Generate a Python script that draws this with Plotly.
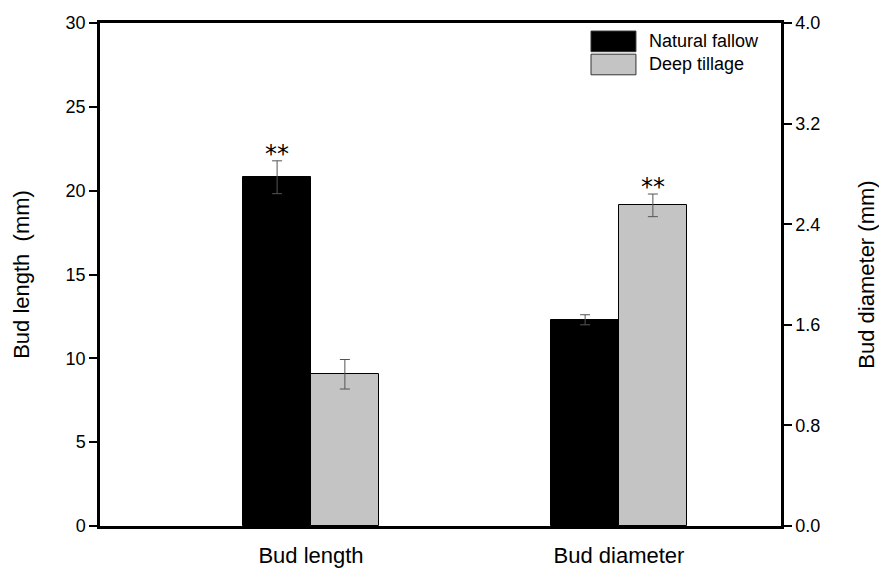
import plotly.graph_objects as go

categories = ["Bud length", "Bud diameter"]
series_names = ["Natural fallow", "Deep tillage"]
# values: bud length on left axis (mm), bud diameter on right axis (mm)
natural_fallow = [20.8, 1.64]
natural_fallow_err = [0.98, 0.04]
deep_tillage = [9.05, 2.55]
deep_tillage_err = [0.88, 0.09]
significance = [["**", ""], ["", "**"]]  # [category][series]
colors = ["#000000", "#c4c4c4"]
left_ticks = [0, 5, 10, 15, 20, 25, 30]
right_ticks = [0.0, 0.8, 1.6, 2.4, 3.2, 4.0]

BW = 0.22
FONT = "Liberation Sans, Arial, sans-serif"

fig = go.Figure()
vals = [natural_fallow, deep_tillage]
errs = [natural_fallow_err, deep_tillage_err]
for ci, cat in enumerate(categories):
    yax = "y" if ci == 0 else "y2"
    for si, name in enumerate(series_names):
        fig.add_trace(go.Bar(
            x=[cat], y=[vals[si][ci]], name=name, yaxis=yax,
            offset=-BW if si == 0 else 0, width=BW,
            marker=dict(color=colors[si], line=dict(color="#000000", width=1)),
            error_y=dict(type="data", array=[errs[si][ci]], visible=True,
                         color="#555555", thickness=1, width=5),
            showlegend=False,
        ))
        if significance[ci][si]:
            fig.add_annotation(
                x=ci + (-BW / 2 if si == 0 else BW / 2),
                y=vals[si][ci] + errs[si][ci], yref=yax,
                text=significance[ci][si], showarrow=False,
                yanchor="bottom", yshift=-9,
                font=dict(family="DejaVu Sans, sans-serif", size=24, color="#000000"),
            )

# legend drawn as swatches + labels in the top-right corner
legend_top = [0.984, 0.938]
for si, name in enumerate(series_names):
    y0 = legend_top[si]
    fig.add_shape(type="rect", xref="paper", yref="paper",
                  x0=0.721, x1=0.787, y0=y0 - 0.041, y1=y0,
                  fillcolor=colors[si], line=dict(color="#333333", width=1))
    fig.add_annotation(xref="paper", yref="paper", x=0.803, y=y0 - 0.0205,
                       text=name, showarrow=False, xanchor="left", yanchor="middle",
                       font=dict(family=FONT, size=18, color="#000000"))

fig.update_layout(
    width=879, height=569,
    margin=dict(l=100, r=98, t=23, b=43),
    plot_bgcolor="white", paper_bgcolor="white",
    bargap=0, barmode="overlay",
    font=dict(family=FONT, color="#000000"),
    xaxis=dict(
        type="category", range=[-0.685, 1.526], automargin=False,
        showline=True, linecolor="#000000", linewidth=2.5, mirror=True,
        ticks="", showgrid=False, zeroline=False,
        tickfont=dict(family=FONT, size=22), ticklabelstandoff=8,
    ),
    yaxis=dict(
        range=[0, 30], tickvals=left_ticks, automargin=False,
        showline=True, linecolor="#000000", linewidth=2.5,
        ticks="outside", ticklen=8, tickwidth=2, tickcolor="#000000",
        showgrid=False, zeroline=False,
        tickfont=dict(family=FONT, size=18),
        title=dict(text="Bud length  (mm)", font=dict(family=FONT, size=22), standoff=30),
    ),
    yaxis2=dict(
        range=[0, 4.0], tickvals=right_ticks, tickformat=".1f", automargin=False,
        overlaying="y", side="right",
        showline=True, linecolor="#000000", linewidth=2.5,
        ticks="outside", ticklen=8, tickwidth=2, tickcolor="#000000",
        showgrid=False, zeroline=False,
        tickfont=dict(family=FONT, size=18),
        title=dict(text="Bud diameter (mm)", font=dict(family=FONT, size=22), standoff=40),
    ),
)

fig.write_html("out.html")
